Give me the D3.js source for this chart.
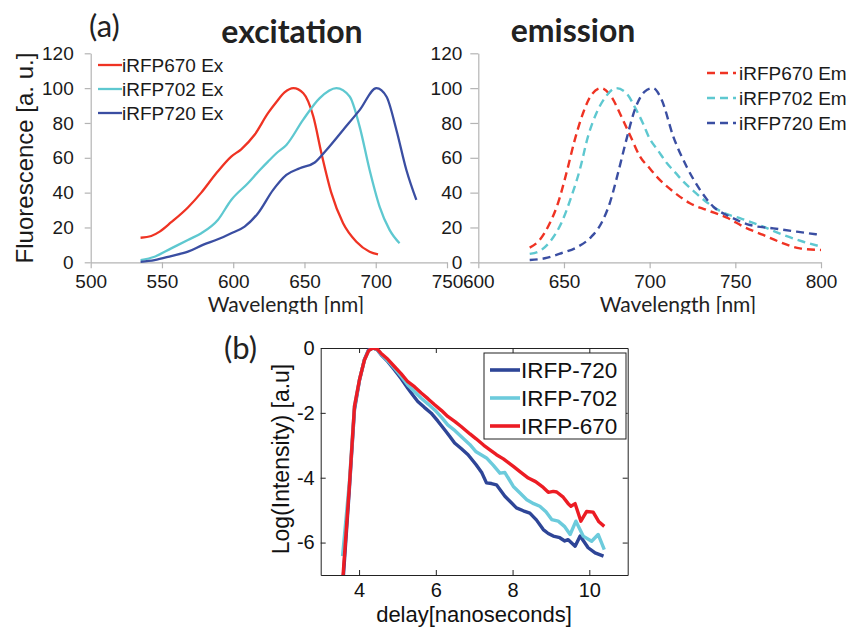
<!DOCTYPE html>
<html lang="en">
<head>
<meta charset="utf-8">
<title>iRFP spectra</title>
<script src="https://d3js.org/d3.v7.min.js"></script>
<style>
  body { margin: 0; background: #fff; }
  svg { display: block; }
  .tick text { font-family: "Liberation Sans", Arial, sans-serif; }
</style>
</head>
<body>
<script>
// ---- data ----
var exNm670 = [535, 542.5, 548.4, 556.5, 568.2, 577.6, 588.1, 598.6, 605.6, 615, 624.4, 630.3, 636, 642.2, 649.2, 656.2, 661.9, 668.9, 677.1, 686.4, 695.7, 701.6];
var ex670   = [14.1, 15.1, 17.6, 23, 31.5, 40, 51.1, 60.7, 64.9, 73.2, 85.6, 92, 97.5, 100, 97.1, 83.7, 62.6, 39.7, 22.4, 11.8, 6.1, 4.6];
var exNm702 = [535, 544.8, 556.5, 568.2, 577.6, 589.2, 598.6, 610.3, 618.7, 624.4, 630.3, 637.3, 649, 660.7, 672.4, 681.7, 688.7, 695.7, 702.7, 709.7, 716.7];
var ex702   = [1.3, 3.2, 8, 12.8, 16.7, 24.3, 35.8, 45.4, 53, 57.8, 62.6, 67.4, 81.8, 94.3, 100, 95.2, 77.9, 53, 32, 18.6, 10.9];
var exNm720 = [535, 544.8, 556.5, 568.2, 578.7, 589.2, 598.6, 608, 617.4, 628, 637.3, 646.7, 657.2, 665.4, 677.1, 688.8, 700.5, 707.5, 714.5, 721.5, 728.5];
var ex720   = [0.3, 1.3, 3.6, 6.1, 10, 13.2, 16.7, 20.5, 28.2, 41.6, 50.2, 54, 57.3, 64.5, 76, 87.5, 100, 95.2, 76, 53, 35.8];

var emNm670 = [630, 635.8, 641.7, 646.5, 651.4, 656.3, 661.1, 666, 671.8, 677.6, 683.5, 689.3, 694.4, 700, 704.1, 713.8, 723.5, 733.3, 745.9, 754.6, 766.3, 778, 787.7, 800];
var em670   = [8.4, 12.8, 22.4, 33.9, 51.1, 70.3, 85.6, 96.1, 100, 95.2, 83.7, 71.3, 60.7, 54, 49.2, 40.6, 33.9, 30, 25.3, 20.5, 15.7, 10.9, 8, 7.1];
var emNm702 = [630, 636.8, 642.6, 648.4, 654.3, 659.2, 664, 668.9, 673.8, 680.5, 686.4, 692.2, 696, 700, 705, 710, 715, 720, 725, 733.3, 743, 752.7, 766.3, 778, 789.7, 800];
var em702   = [4.8, 7.1, 12.8, 22.4, 37.7, 53, 72.2, 85.6, 94.3, 100, 97.1, 87.5, 80, 71, 64, 57, 51.5, 46, 41.5, 34.5, 28.5, 25.3, 20.5, 15.7, 11.8, 9];
var emNm720 = [630, 638.8, 648.4, 658.2, 666, 671.8, 676.7, 681.5, 686.4, 691.3, 697.1, 702, 707, 713.8, 721.6, 729.4, 737.1, 746.9, 758.6, 772.2, 785.8, 800];
var em720   = [1.3, 2.3, 5.2, 9, 14.7, 22.4, 33.9, 51.1, 70.3, 87.5, 98, 100, 93.3, 72.2, 54.9, 41.6, 32, 26.2, 21.4, 19.5, 17.6, 15.7];

var exLabels = ["iRFP670 Ex", "iRFP702 Ex", "iRFP720 Ex"];
var emLabels = ["iRFP670 Em", "iRFP702 Em", "iRFP720 Em"];
var exTicks = [500, 550, 600, 650, 700, 750];
var emTicks = [600, 650, 700, 750, 800];
var fluoTicks = [0, 20, 40, 60, 80, 100, 120];

// lifetime decay (panel b)
var t670 = [3.5, 3.75, 3.88, 4.01, 4.14, 4.25, 4.36, 4.47, 4.57, 4.75, 4.92, 5.1, 5.27, 5.45, 5.62, 5.8, 5.97, 6.15, 6.31, 6.5, 6.66, 6.89, 7.05, 7.25, 7.41, 7.58, 7.76, 8.02, 8.2, 8.41, 8.6, 8.8, 8.93, 9.06, 9.15, 9.32, 9.45, 9.52, 9.63, 9.78, 9.93, 10.1, 10.25, 10.39];
var log670 = [-8.4, -4.2, -1.8, -0.98, -0.37, -0.08, 0, -0.03, -0.16, -0.35, -0.57, -0.8, -1.04, -1.2, -1.39, -1.57, -1.75, -1.93, -2.11, -2.27, -2.42, -2.65, -2.8, -3.0, -3.14, -3.29, -3.42, -3.65, -3.82, -4.01, -4.12, -4.3, -4.45, -4.42, -4.44, -4.6, -4.8, -4.88, -4.8, -5.34, -5.04, -5.06, -5.36, -5.5];
var t702 = [3.57, 3.75, 3.88, 4.01, 4.14, 4.25, 4.36, 4.47, 4.57, 4.75, 4.92, 5.1, 5.27, 5.45, 5.62, 5.8, 5.97, 6.15, 6.31, 6.5, 6.66, 6.89, 7.05, 7.32, 7.5, 7.67, 7.8, 8.02, 8.2, 8.37, 8.55, 8.71, 8.87, 9.02, 9.19, 9.35, 9.5, 9.65, 9.84, 10.06, 10.23, 10.39];
var log702 = [-6.42, -4.1, -1.8, -0.98, -0.37, -0.08, 0, -0.05, -0.18, -0.4, -0.62, -0.88, -1.14, -1.35, -1.55, -1.73, -1.91, -2.14, -2.37, -2.55, -2.73, -2.98, -3.2, -3.39, -3.62, -3.86, -3.84, -4.27, -4.48, -4.68, -4.8, -4.88, -5.05, -5.29, -5.34, -5.5, -5.75, -5.34, -5.8, -5.96, -5.75, -6.22];
var t720 = [3.5, 3.75, 3.88, 4.01, 4.14, 4.25, 4.36, 4.47, 4.57, 4.75, 4.92, 5.1, 5.27, 5.4, 5.53, 5.7, 5.88, 6.05, 6.23, 6.36, 6.49, 6.66, 6.84, 7.05, 7.2, 7.32, 7.45, 7.58, 7.8, 7.95, 8.1, 8.28, 8.45, 8.62, 8.8, 8.93, 9.06, 9.23, 9.36, 9.45, 9.63, 9.76, 9.97, 10.15, 10.37];
var log720 = [-8.6, -4.3, -1.9, -1.0, -0.35, -0.05, 0, -0.05, -0.2, -0.42, -0.67, -0.95, -1.24, -1.45, -1.65, -1.83, -2.01, -2.25, -2.52, -2.72, -2.93, -3.1, -3.29, -3.6, -3.85, -4.16, -4.18, -4.22, -4.57, -4.75, -4.93, -5.02, -5.09, -5.3, -5.6, -5.72, -5.8, -5.85, -5.95, -5.91, -6.11, -5.8, -6.16, -6.32, -6.42];
var decayLabels = ["IRFP-720", "IRFP-702", "IRFP-670"];
var delayTicks = [4, 6, 8, 10];
var logTicks = [0, -2, -4, -6];

var exColors = ["#ef3323", "#5ec8d0", "#3a4ea2"];
var decayColors = ["#2e4597", "#6ccbdc", "#ec1c24"];

var W = 853, H = 630;
var svg = d3.select("body").append("svg").attr("width", W).attr("height", H);

var sans = "'Liberation Sans', Arial, sans-serif";
var calib = "Lato, 'Liberation Sans', sans-serif";
var plain = function (d) { return String(d); };   // keep ASCII hyphen like the original

// ---------- panel (a) ----------
svg.append("defs").append("clipPath").attr("id", "clipA")
  .append("rect").attr("x", 0).attr("y", 0).attr("width", W).attr("height", 314);
var a = svg.append("g").attr("clip-path", "url(#clipA)");

var yF = d3.scaleLinear().domain([0, 120]).range([262.3, 53.3]);
var xEx = d3.scaleLinear().domain([500, 750]).range([90.7, 447]);
var xEm = d3.scaleLinear().domain([600, 800]).range([478.3, 821]);

function styleAxisA(g) {
  g.selectAll(".domain").attr("stroke", "#b4b4b4").attr("stroke-width", 1.2);
  g.selectAll(".tick line").attr("stroke", "#b4b4b4").attr("stroke-width", 1.2);
  g.selectAll(".tick text").attr("fill", "#1a1a1a").attr("font-size", "19px").attr("font-family", sans);
}

a.append("g").attr("transform", "translate(0,262.3)")
  .call(d3.axisBottom(xEx).tickValues(exTicks).tickFormat(plain).tickSize(6).tickSizeOuter(0).tickPadding(6))
  .call(styleAxisA);
a.append("g").attr("transform", "translate(90.7,0)")
  .call(d3.axisLeft(yF).tickValues(fluoTicks).tickFormat(plain).tickSize(6).tickSizeOuter(0).tickPadding(11))
  .call(styleAxisA);
a.append("g").attr("transform", "translate(0,262.3)")
  .call(d3.axisBottom(xEm).tickValues(emTicks).tickFormat(plain).tickSize(6).tickSizeOuter(0).tickPadding(6))
  .call(styleAxisA);
a.append("g").attr("transform", "translate(478.3,0)")
  .call(d3.axisLeft(yF).tickValues(fluoTicks).tickFormat(plain).tickSize(8).tickSizeOuter(0).tickPadding(8))
  .call(styleAxisA);

var exSets = [[exNm670, ex670], [exNm702, ex702], [exNm720, ex720]];
var emSets = [[emNm670, em670], [emNm702, em702], [emNm720, em720]];

function pairs(s) { return s[0].map(function (x, i) { return [x, s[1][i]]; }); }

var lineEx = d3.line().x(function (d) { return xEx(d[0]); }).y(function (d) { return yF(d[1]); }).curve(d3.curveMonotoneX);
var lineEm = d3.line().x(function (d) { return xEm(d[0]); }).y(function (d) { return yF(d[1]); }).curve(d3.curveMonotoneX);

a.selectAll(".ex").data(exSets).enter().append("path")
  .attr("class", "ex")
  .attr("d", function (d) { return lineEx(pairs(d)); })
  .attr("fill", "none")
  .attr("stroke", function (d, i) { return exColors[i]; })
  .attr("stroke-width", 2.3);

a.selectAll(".em").data(emSets).enter().append("path")
  .attr("class", "em")
  .attr("d", function (d) { return lineEm(pairs(d)); })
  .attr("fill", "none")
  .attr("stroke", function (d, i) { return exColors[i]; })
  .attr("stroke-width", 2.4)
  .attr("stroke-dasharray", "8,5");

// legends (a)
exLabels.forEach(function (lab, i) {
  var y = 65 + i * 24;
  a.append("line").attr("x1", 98).attr("x2", 122).attr("y1", y).attr("y2", y)
    .attr("stroke", exColors[i]).attr("stroke-width", 2.3);
  a.append("text").attr("x", 122).attr("y", y + 7).text(lab)
    .attr("font-family", sans).attr("font-size", "19px").attr("fill", "#1a1a1a");
});
emLabels.forEach(function (lab, i) {
  var y = 73 + i * 25;
  a.append("line").attr("x1", 707).attr("x2", 736).attr("y1", y).attr("y2", y)
    .attr("stroke", exColors[i]).attr("stroke-width", 2.4).attr("stroke-dasharray", "8,5");
  a.append("text").attr("x", 739).attr("y", y + 7).text(lab)
    .attr("font-family", sans).attr("font-size", "19px").attr("fill", "#1a1a1a");
});

// titles and labels (a)
a.append("text").attr("x", 89).attr("y", 37).text("(a)")
  .attr("font-family", calib).attr("font-size", "31px").attr("fill", "#222");
a.append("text").attr("x", 292).attr("y", 43).attr("text-anchor", "middle").text("excitation")
  .attr("font-family", calib).attr("font-weight", "bold").attr("font-size", "32px").attr("fill", "#222");
a.append("text").attr("x", 573).attr("y", 42).attr("text-anchor", "middle").text("emission")
  .attr("font-family", calib).attr("font-weight", "bold").attr("font-size", "32px").attr("fill", "#222");
a.append("text").attr("transform", "translate(33,158) rotate(-90)").attr("text-anchor", "middle")
  .text("Fluorescence [a. u.]").attr("font-family", sans).attr("font-size", "24px").attr("fill", "#1a1a1a");
a.append("text").attr("x", 286).attr("y", 312).attr("text-anchor", "middle").text("Wavelength [nm]")
  .attr("font-family", calib).attr("font-size", "21px").attr("fill", "#222");
a.append("text").attr("x", 678).attr("y", 312).attr("text-anchor", "middle").text("Wavelength [nm]")
  .attr("font-family", calib).attr("font-size", "21px").attr("fill", "#222");

// ---------- panel (b) ----------
var bL = 320.7, bR = 627.7, bT = 348, bB = 575;
var xT = d3.scaleLinear().domain([3, 11]).range([bL, bR]);
var yL = d3.scaleLinear().domain([-7, 0]).range([bB, bT]);

svg.append("defs").append("clipPath").attr("id", "clipB")
  .append("rect").attr("x", bL).attr("y", bT).attr("width", bR - bL).attr("height", bB - bT);

var b = svg.append("g");

function styleAxisB(g) {
  g.selectAll(".domain").attr("stroke", "#222");
  g.selectAll(".tick line").attr("stroke", "#222");
  g.selectAll(".tick text").attr("fill", "#111").attr("font-size", "20px").attr("font-family", sans);
}
b.append("g").attr("transform", "translate(0," + bB + ")")
  .call(d3.axisBottom(xT).tickValues(delayTicks).tickFormat(plain).tickSize(-5).tickSizeOuter(0).tickPadding(8))
  .call(styleAxisB);
b.append("g").attr("transform", "translate(0," + bT + ")")
  .call(d3.axisTop(xT).tickValues(delayTicks).tickSize(-5).tickSizeOuter(0).tickFormat(""))
  .call(styleAxisB);
b.append("g").attr("transform", "translate(" + bL + ",0)")
  .call(d3.axisLeft(yL).tickValues(logTicks).tickFormat(plain).tickSize(-5).tickSizeOuter(0).tickPadding(6))
  .call(styleAxisB);
b.append("g").attr("transform", "translate(" + bR + ",0)")
  .call(d3.axisRight(yL).tickValues(logTicks).tickSize(-5).tickSizeOuter(0).tickFormat(""))
  .call(styleAxisB);

var decaySets = [[t720, log720], [t702, log702], [t670, log670]];
var lineT = d3.line().x(function (d) { return xT(d[0]); }).y(function (d) { return yL(d[1]); });

b.append("g").attr("clip-path", "url(#clipB)")
  .selectAll("path").data(decaySets).enter().append("path")
  .attr("d", function (d) { return lineT(pairs(d)); })
  .attr("fill", "none")
  .attr("stroke", function (d, i) { return decayColors[i]; })
  .attr("stroke-width", 3.4)
  .attr("stroke-linejoin", "round");

// legend (b)
b.append("rect").attr("x", 484).attr("y", 353).attr("width", 142).attr("height", 86)
  .attr("fill", "#fff").attr("stroke", "#222").attr("stroke-width", 1);
decayLabels.forEach(function (lab, i) {
  var y = 370 + i * 28;
  b.append("line").attr("x1", 490).attr("x2", 520).attr("y1", y).attr("y2", y)
    .attr("stroke", decayColors[i]).attr("stroke-width", 3.6);
  b.append("text").attr("x", 521).attr("y", y + 8).text(lab)
    .attr("font-family", sans).attr("font-size", "22.5px").attr("fill", "#111");
});

b.append("text").attr("x", 224).attr("y", 359).text("(b)")
  .attr("font-family", calib).attr("font-size", "31px").attr("fill", "#222");
b.append("text").attr("transform", "translate(289,459) rotate(-90)").attr("text-anchor", "middle")
  .text("Log(Intensity) [a.u]").attr("font-family", sans).attr("font-size", "23px").attr("fill", "#111");
b.append("text").attr("x", 474).attr("y", 622).attr("text-anchor", "middle")
  .text("delay[nanoseconds]").attr("font-family", sans).attr("font-size", "22px").attr("fill", "#111");
</script>
</body>
</html>
